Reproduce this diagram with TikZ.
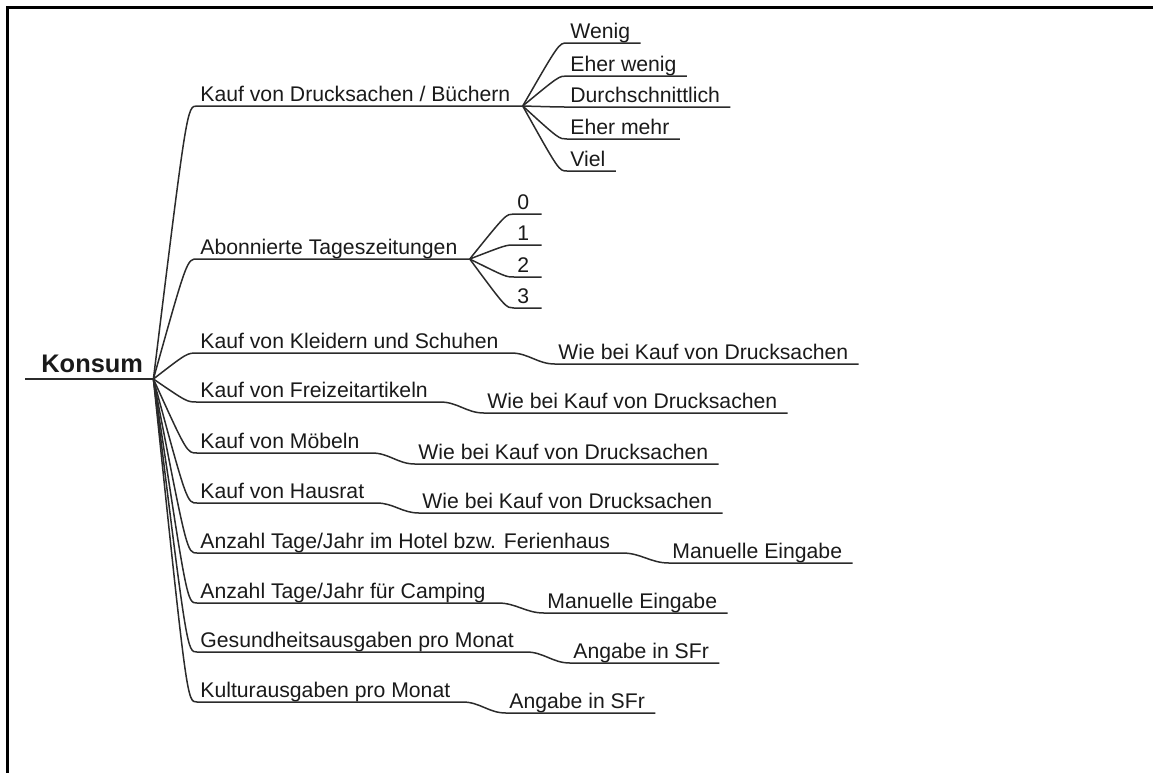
\documentclass[tikz,border=0pt]{standalone}
\usepackage{fontspec}
\setmainfont{Liberation Sans}
\definecolor{mapline}{HTML}{2B2B2B}
\definecolor{maptext}{HTML}{1A1A1A}

\begin{document}
\begin{tikzpicture}[x=0.5pt, y=-0.5pt,
  lbl/.style={anchor=south west, inner xsep=1.5pt, inner ysep=2.2pt, text depth=0pt, text=maptext, font=\fontsize{10.6}{12}\selectfont},
  branch/.style={draw=mapline, line width=0.75pt}]
\useasboundingbox (0,0) rectangle (1153,773);
\draw[line width=1.25pt] (1153,7.5) -- (7.5,7.5) -- (7.5,773);

% Root
\node[lbl, inner xsep=0pt, inner ysep=3pt, font=\fontsize{12.7}{14}\selectfont\bfseries] (konsum) at (41,379) {Konsum};
\coordinate (hub) at ([xshift=5pt]konsum.south east);
\draw[branch] ([xshift=-8pt]konsum.south west) -- (hub);

% Drucksachen / Buecher
\node[lbl] (druck) at (197,106) {Kauf von Drucksachen / Büchern};
\coordinate (druckend) at ([xshift=4.5pt]druck.south east);
\draw[branch] (hub) .. controls ([xshift=-5pt]druck.south west) .. (druck.south west) -- (druckend);
\node[lbl] (wenig) at (567,43) {Wenig};
\node[lbl] (eherwenig) at (567,76) {Eher wenig};
\node[lbl] (durchschn) at (567,107) {Durchschnittlich};
\node[lbl] (ehermehr) at (567,139) {Eher mehr};
\node[lbl] (viel) at (567,171) {Viel};
\draw[branch] (druckend) .. controls ([xshift=-4pt]wenig.south west) .. (wenig.south west) -- ([xshift=3.5pt]wenig.south east);
\draw[branch] (druckend) .. controls ([xshift=-4pt]eherwenig.south west) .. (eherwenig.south west) -- ([xshift=3.5pt]eherwenig.south east);
\draw[branch] (druckend) .. controls ([xshift=-4pt]durchschn.south west) .. (durchschn.south west) -- ([xshift=3.5pt]durchschn.south east);
\draw[branch] (druckend) .. controls ([xshift=-4pt]ehermehr.south west) .. (ehermehr.south west) -- ([xshift=3.5pt]ehermehr.south east);
\draw[branch] (druckend) .. controls ([xshift=-4pt]viel.south west) .. (viel.south west) -- ([xshift=3.5pt]viel.south east);

% Tageszeitungen
\node[lbl] (abo) at (197,259) {Abonnierte Tageszeitungen};
\coordinate (aboend) at ([xshift=4.5pt]abo.south east);
\draw[branch] (hub) .. controls ([xshift=-5pt]abo.south west) .. (abo.south west) -- (aboend);
\node[lbl] (abo0) at (514,214) {0};
\node[lbl] (abo1) at (514,245) {1};
\node[lbl] (abo2) at (514,277) {2};
\node[lbl] (abo3) at (514,308) {3};
\draw[branch] (aboend) .. controls ([xshift=-4pt]abo0.south west) .. (abo0.south west) -- ([xshift=4.5pt]abo0.south east);
\draw[branch] (aboend) .. controls ([xshift=-4pt]abo1.south west) .. (abo1.south west) -- ([xshift=4.5pt]abo1.south east);
\draw[branch] (aboend) .. controls ([xshift=-4pt]abo2.south west) .. (abo2.south west) -- ([xshift=4.5pt]abo2.south east);
\draw[branch] (aboend) .. controls ([xshift=-4pt]abo3.south west) .. (abo3.south west) -- ([xshift=4.5pt]abo3.south east);

% Kleider und Schuhe
\node[lbl] (kleid) at (197,353) {Kauf von Kleidern und Schuhen};
\node[lbl] (kleidW) at (555,364) {Wie bei Kauf von Drucksachen};
\draw[branch] (hub) .. controls ([xshift=-5pt]kleid.south west) .. (kleid.south west) -- ([xshift=4.5pt]kleid.south east) to[out=0, in=180] (kleidW.south west) -- ([xshift=3.5pt]kleidW.south east);

% Freizeitartikel
\node[lbl] (frei) at (197,402) {Kauf von Freizeitartikeln};
\node[lbl] (freiW) at (484,413) {Wie bei Kauf von Drucksachen};
\draw[branch] (hub) .. controls ([xshift=-5pt]frei.south west) .. (frei.south west) -- ([xshift=4.5pt]frei.south east) to[out=0, in=180] (freiW.south west) -- ([xshift=3.5pt]freiW.south east);

% Moebel
\node[lbl] (moebel) at (197,453) {Kauf von Möbeln};
\node[lbl] (moebelW) at (415,464) {Wie bei Kauf von Drucksachen};
\draw[branch] (hub) .. controls ([xshift=-5pt]moebel.south west) .. (moebel.south west) -- ([xshift=4.5pt]moebel.south east) to[out=0, in=180] (moebelW.south west) -- ([xshift=3.5pt]moebelW.south east);

% Hausrat
\node[lbl] (haus) at (197,503) {Kauf von Hausrat};
\node[lbl] (hausW) at (419,513) {Wie bei Kauf von Drucksachen};
\draw[branch] (hub) .. controls ([xshift=-5pt]haus.south west) .. (haus.south west) -- ([xshift=4.5pt]haus.south east) to[out=0, in=180] (hausW.south west) -- ([xshift=3.5pt]hausW.south east);

% Hotel
\node[lbl] (hotel) at (197,553) {Anzahl Tage/Jahr im Hotel bzw. Ferienhaus};
\node[lbl] (hotelM) at (669,563) {Manuelle Eingabe};
\draw[branch] (hub) .. controls ([xshift=-5pt]hotel.south west) .. (hotel.south west) -- ([xshift=4.5pt]hotel.south east) to[out=0, in=180] (hotelM.south west) -- ([xshift=3.5pt]hotelM.south east);

% Camping
\node[lbl] (camp) at (197,603) {Anzahl Tage/Jahr für Camping};
\node[lbl] (campM) at (544,613) {Manuelle Eingabe};
\draw[branch] (hub) .. controls ([xshift=-5pt]camp.south west) .. (camp.south west) -- ([xshift=4.5pt]camp.south east) to[out=0, in=180] (campM.south west) -- ([xshift=3.5pt]campM.south east);

% Gesundheit
\node[lbl] (gesund) at (197,652) {Gesundheitsausgaben pro Monat};
\node[lbl] (gesundA) at (570,663) {Angabe in SFr};
\draw[branch] (hub) .. controls ([xshift=-5pt]gesund.south west) .. (gesund.south west) -- ([xshift=4.5pt]gesund.south east) to[out=0, in=180] (gesundA.south west) -- ([xshift=3.5pt]gesundA.south east);

% Kultur
\node[lbl] (kultur) at (197,702) {Kulturausgaben pro Monat};
\node[lbl] (kulturA) at (506,713) {Angabe in SFr};
\draw[branch] (hub) .. controls ([xshift=-5pt]kultur.south west) .. (kultur.south west) -- ([xshift=4.5pt]kultur.south east) to[out=0, in=180] (kulturA.south west) -- ([xshift=3.5pt]kulturA.south east);
\end{tikzpicture}
\end{document}
